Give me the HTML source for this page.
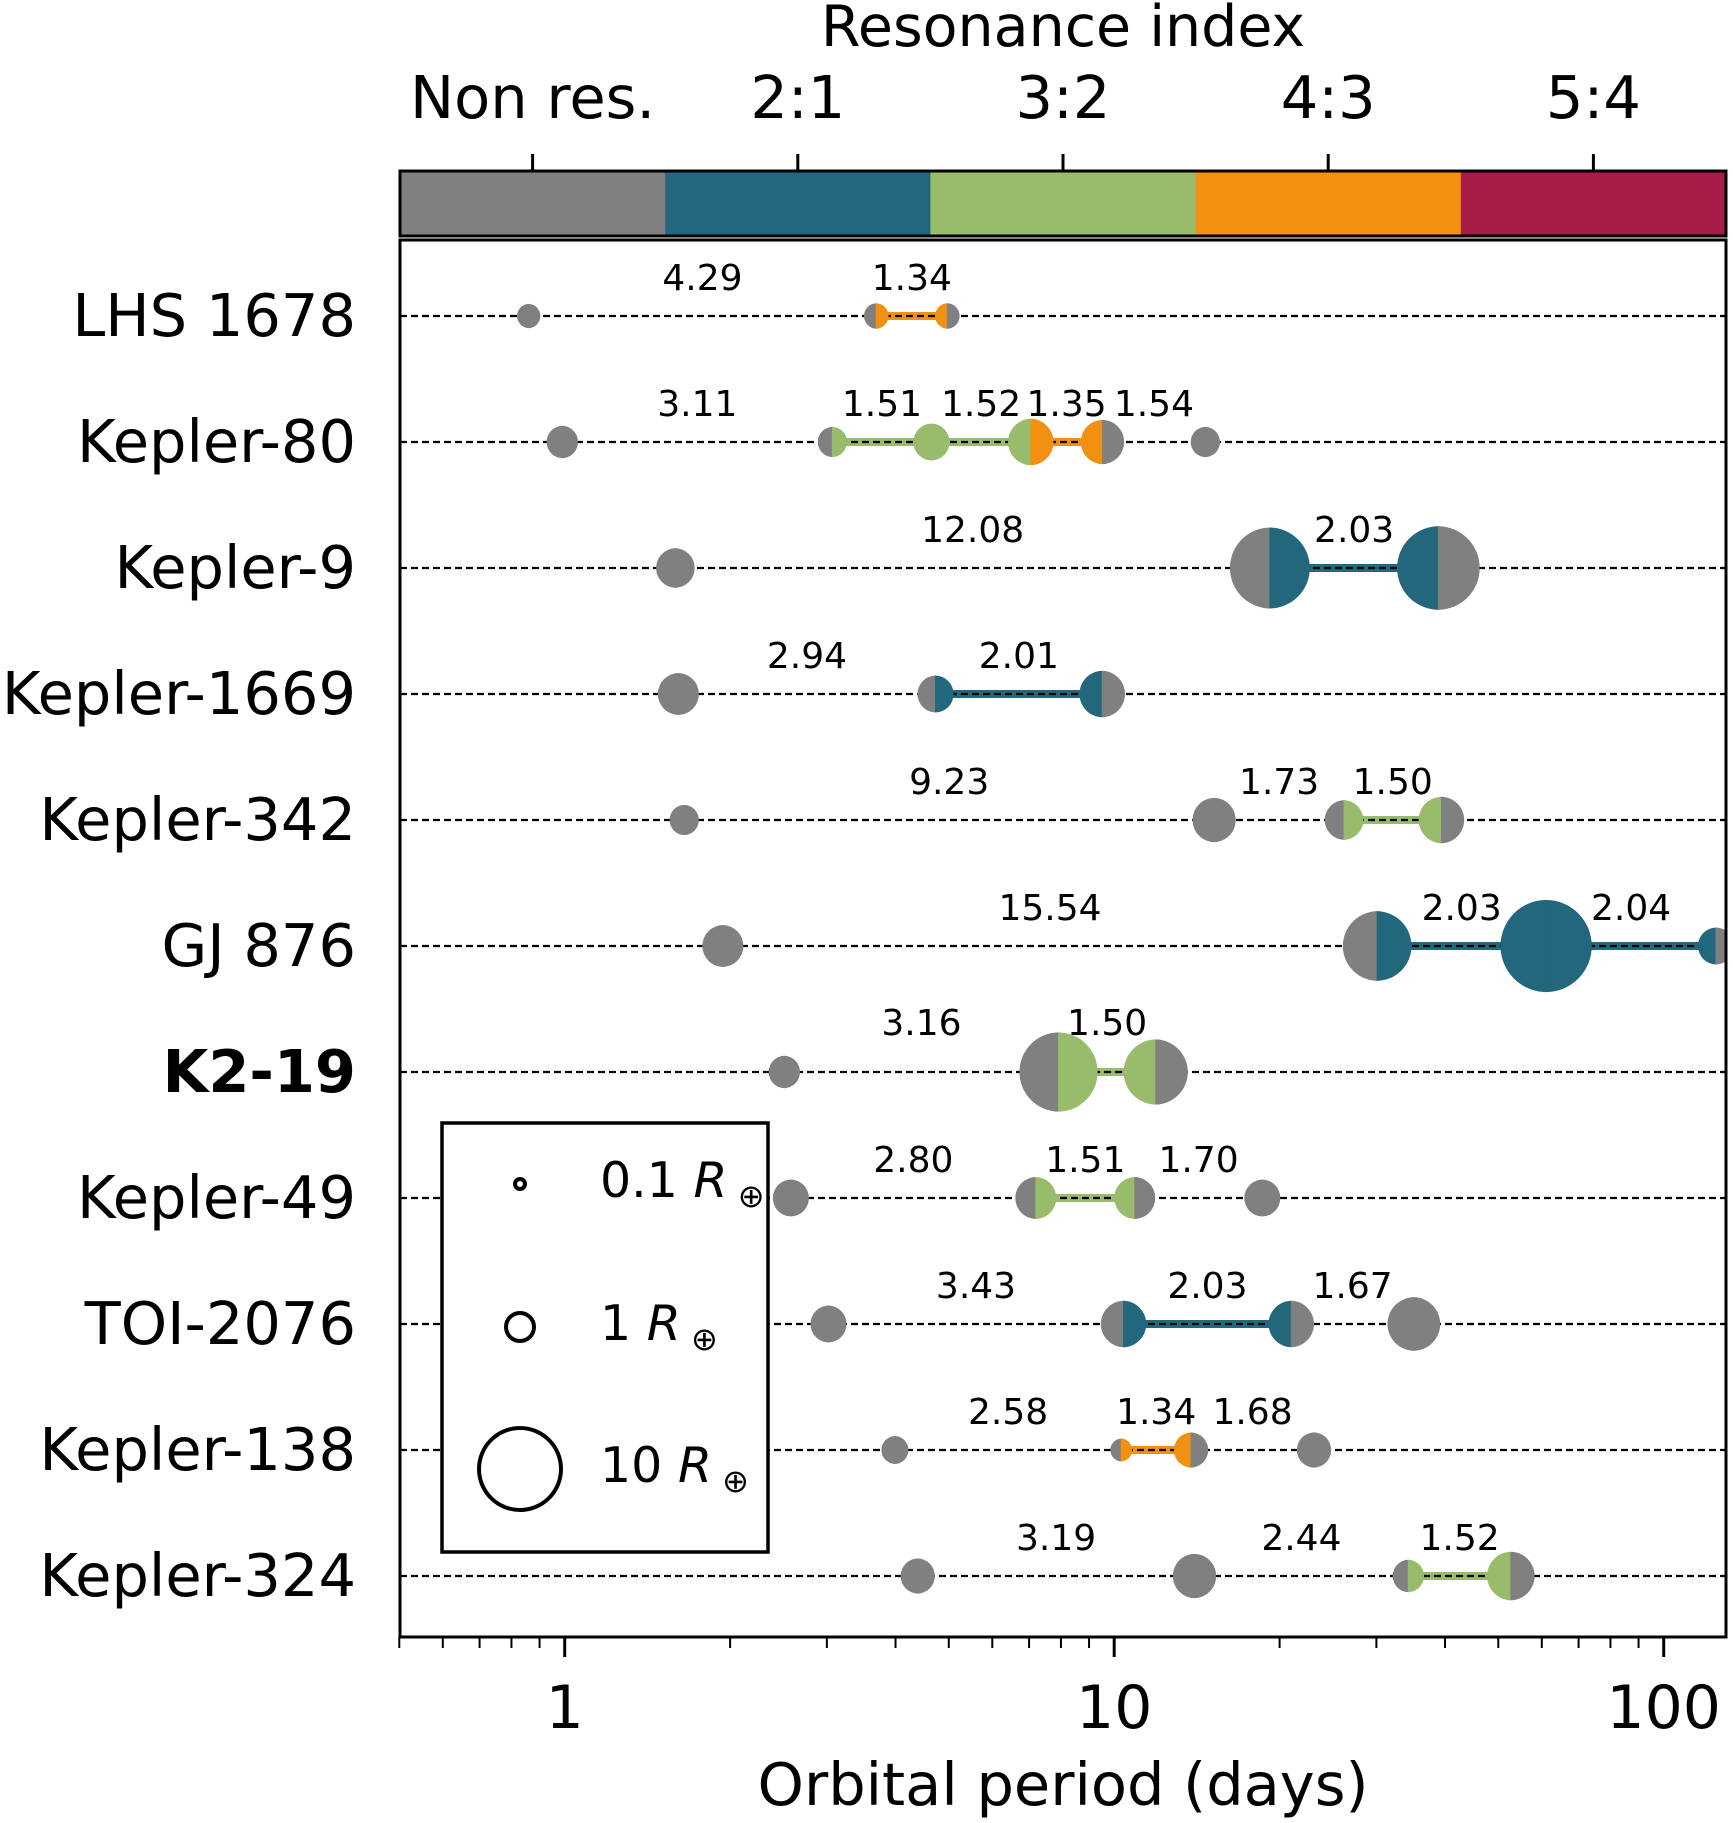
<!DOCTYPE html>
<html><head><meta charset="utf-8"><style>
html,body{margin:0;padding:0;background:#fff;}
svg{display:block;font-family:"DejaVu Sans","Liberation Sans",sans-serif;}
</style></head><body>
<svg id="chart" width="1733" height="1823" viewBox="0 0 1733 1823" xmlns="http://www.w3.org/2000/svg">
<defs><clipPath id="axclip"><rect x="400" y="240" width="1326" height="1397"/></clipPath></defs>
<g id="colorbar"></g>
<g id="rows" clip-path="url(#axclip)"></g>
<g id="labels"></g>
<g id="xaxis"></g>
<g id="legend"></g>
</svg>
<script>
const systemNames = ["LHS 1678","Kepler-80","Kepler-9","Kepler-1669","Kepler-342","GJ 876","K2-19","Kepler-49","TOI-2076","Kepler-138","Kepler-324"];
const periods = [
 [0.86,3.69,4.97],
 [0.99,3.07,4.65,7.05,9.52,14.65],
 [1.59,19.2,38.9],
 [1.61,4.73,9.51],
 [1.65,15.2,26.2,39.4],
 [1.94,30.1,61.1,124.5],
 [2.51,7.92,11.9],
 [2.58,7.2,10.9,18.6],
 [3.02,10.4,21.0,35.1],
 [3.99,10.3,13.8,23.1],
 [4.39,14.0,34.3,52.7]
];
const radii = [
 [0.9,1.0,1.0],
 [1.6,1.4,2.1,3.3,3.0,1.4],
 [2.4,10,10.7],
 [2.7,2.1,3.3],
 [1.4,3.0,2.4,3.3],
 [2.7,7.4,13,2.1],
 [1.6,9.6,6.5],
 [2.1,2.7,2.7,2.1],
 [2.1,3.3,3.3,4.4],
 [1.2,0.8,1.9,1.9],
 [1.9,3.0,1.6,3.6]
];
const resIndex = [
 [0,3],[0,2,2,3,0],[0,1],[0,1],[0,0,2],[0,1,1],[0,2],[0,2,0],[0,1,0],[0,3,0],[0,0,2]
];
const ratioLabels = [
 ["4.29","1.34"],["3.11","1.51","1.52","1.35","1.54"],["12.08","2.03"],["2.94","2.01"],
 ["9.23","1.73","1.50"],["15.54","2.03","2.04"],["3.16","1.50"],["2.80","1.51","1.70"],
 ["3.43","2.03","1.67"],["2.58","1.34","1.68"],["3.19","2.44","1.52"]
];
const cbLabels = ["Non res.","2:1","3:2","4:3","5:4"];
const cbColors = ["#808080","#23677c","#99bb6c","#f29111","#a71c47"];
const xTickVals = [1,10,100];
const xTickLabels = ["1","10","100"];
const legendR = [0.1,1,10];
const legendText = ["0.1","1","10"];

const NS="http://www.w3.org/2000/svg";
const AX_L=400, AX_R=1726, AX_T=240, AX_B=1637;
function xs(p){return 564.7+549.5*Math.log10(p);}
function ys(i){return 316+126*i;}
function rs(R){return 12.8*Math.sqrt(R);}
function mk(tag,attrs,parent){const e=document.createElementNS(NS,tag);for(const k in attrs)e.setAttribute(k,attrs[k]);parent.appendChild(e);return e;}

const cb=document.getElementById('colorbar');
const segW=(AX_R-AX_L)/cbColors.length;
cbColors.forEach((c,i)=>{
  const r=mk('rect',{x:AX_L+i*segW,y:171,width:segW+0.5,height:65,fill:c},cb);
  
  
  const cx=AX_L+(i+0.5)*segW;
  mk('line',{x1:cx,y1:171,x2:cx,y2:154,stroke:'#000','stroke-width':3},cb);
  const t=mk('text',{x:cx,y:118,'font-size':59,'text-anchor':'middle'},cb);
  t.textContent=cbLabels[i];
  
  
});
mk('rect',{x:AX_L,y:171,width:AX_R-AX_L,height:65,fill:'none',stroke:'#000','stroke-width':3},cb);
const cbt=mk('text',{x:1063,y:46,'font-size':57,'text-anchor':'middle'},cb);
cbt.textContent="Resonance index";



const rows=document.getElementById('rows');
const labs=document.getElementById('labels');
function half(cx,cy,r,side,fill,parent){
  const d = side==='L' ? `M${cx+0.5},${cy-r} A${r},${r} 0 0 0 ${cx+0.5},${cy+r} Z` : `M${cx-0.5},${cy-r} A${r},${r} 0 0 1 ${cx-0.5},${cy+r} Z`;
  return mk('path',{d:d,fill:fill},parent);
}
systemNames.forEach((name,i)=>{
  const y=ys(i), P=periods[i], R=radii[i], res=resIndex[i];
  const g=mk('g',{},rows);
  
  
  res.forEach((ri,j)=>{
    if(ri>0){
      const c=mk('line',{x1:xs(P[j]),y1:y,x2:xs(P[j+1]),y2:y,stroke:cbColors[ri],'stroke-width':8},g);
      
      
    }
  });
  mk('line',{x1:AX_L,y1:y,x2:AX_R,y2:y,stroke:'#000','stroke-width':2.2,'stroke-dasharray':'7,4'},g);
  P.forEach((p,k)=>{
    const cx=xs(p), r=rs(R[k]);
    const lc = (k>0 && res[k-1]>0) ? cbColors[res[k-1]] : cbColors[0];
    const rc = (k<res.length && res[k]>0) ? cbColors[res[k]] : cbColors[0];
    const pg=mk('g',{},g);
    
    
    half(cx,y,r,'L', lc, pg);
    half(cx,y,r,'R', rc, pg);
  });
  const lOff = name==='K2-19' ? 37 : 26;
  ratioLabels[i].forEach((s,j)=>{
    const mx=(xs(P[j])+xs(P[j+1]))/2;
    const t=mk('text',{x:mx,y:y-lOff,'font-size':36,'text-anchor':'middle'},labs);
    t.textContent=s;
    
    
  });
  const nt=mk('text',{x:356,y:y+20,'font-size':59,'text-anchor':'end','font-weight':name==='K2-19'?'bold':'normal'},labs);
  nt.textContent=name;
  
  
});

const xa=document.getElementById('xaxis');
mk('rect',{x:AX_L,y:AX_T,width:AX_R-AX_L,height:AX_B-AX_T,fill:'none',stroke:'#000','stroke-width':3},xa);
for(let dec=-1;dec<=2;dec++){
  for(let m=1;m<=9;m++){
    const p=m*Math.pow(10,dec), x=xs(p);
    if(x<AX_L-1||x>AX_R+1) continue;
    const major=(m===1);
    mk('line',{x1:x,y1:AX_B,x2:x,y2:AX_B+(major?20:11),stroke:'#000','stroke-width':major?3:2},xa);
  }
}
xTickVals.forEach((v,i)=>{
  const t=mk('text',{x:xs(v),y:1728,'font-size':60,'text-anchor':'middle'},xa);
  t.textContent=xTickLabels[i];
  
  
});
const xl=mk('text',{x:1063,y:1805,'font-size':59,'text-anchor':'middle'},xa);
xl.textContent="Orbital period (days)";



const lg=document.getElementById('legend');
mk('rect',{x:442,y:1123,width:326,height:429,fill:'#fff',stroke:'#000','stroke-width':3.5},lg);
const legY=[1184,1327,1469];
const legRad=[5,14,41];
legendR.forEach((R,i)=>{
  const c=mk('circle',{cx:520,cy:legY[i],r:legRad[i],fill:'none',stroke:'#000','stroke-width':4},lg);
  
  
  const t=mk('text',{x:600,y:legY[i]+13,'font-size':49},lg);
  
  
  t.innerHTML=legendText[i]+' <tspan font-style="italic">R</tspan><tspan font-size="32" dy="10"> ⊕</tspan>';
});
</script>
</body></html>
